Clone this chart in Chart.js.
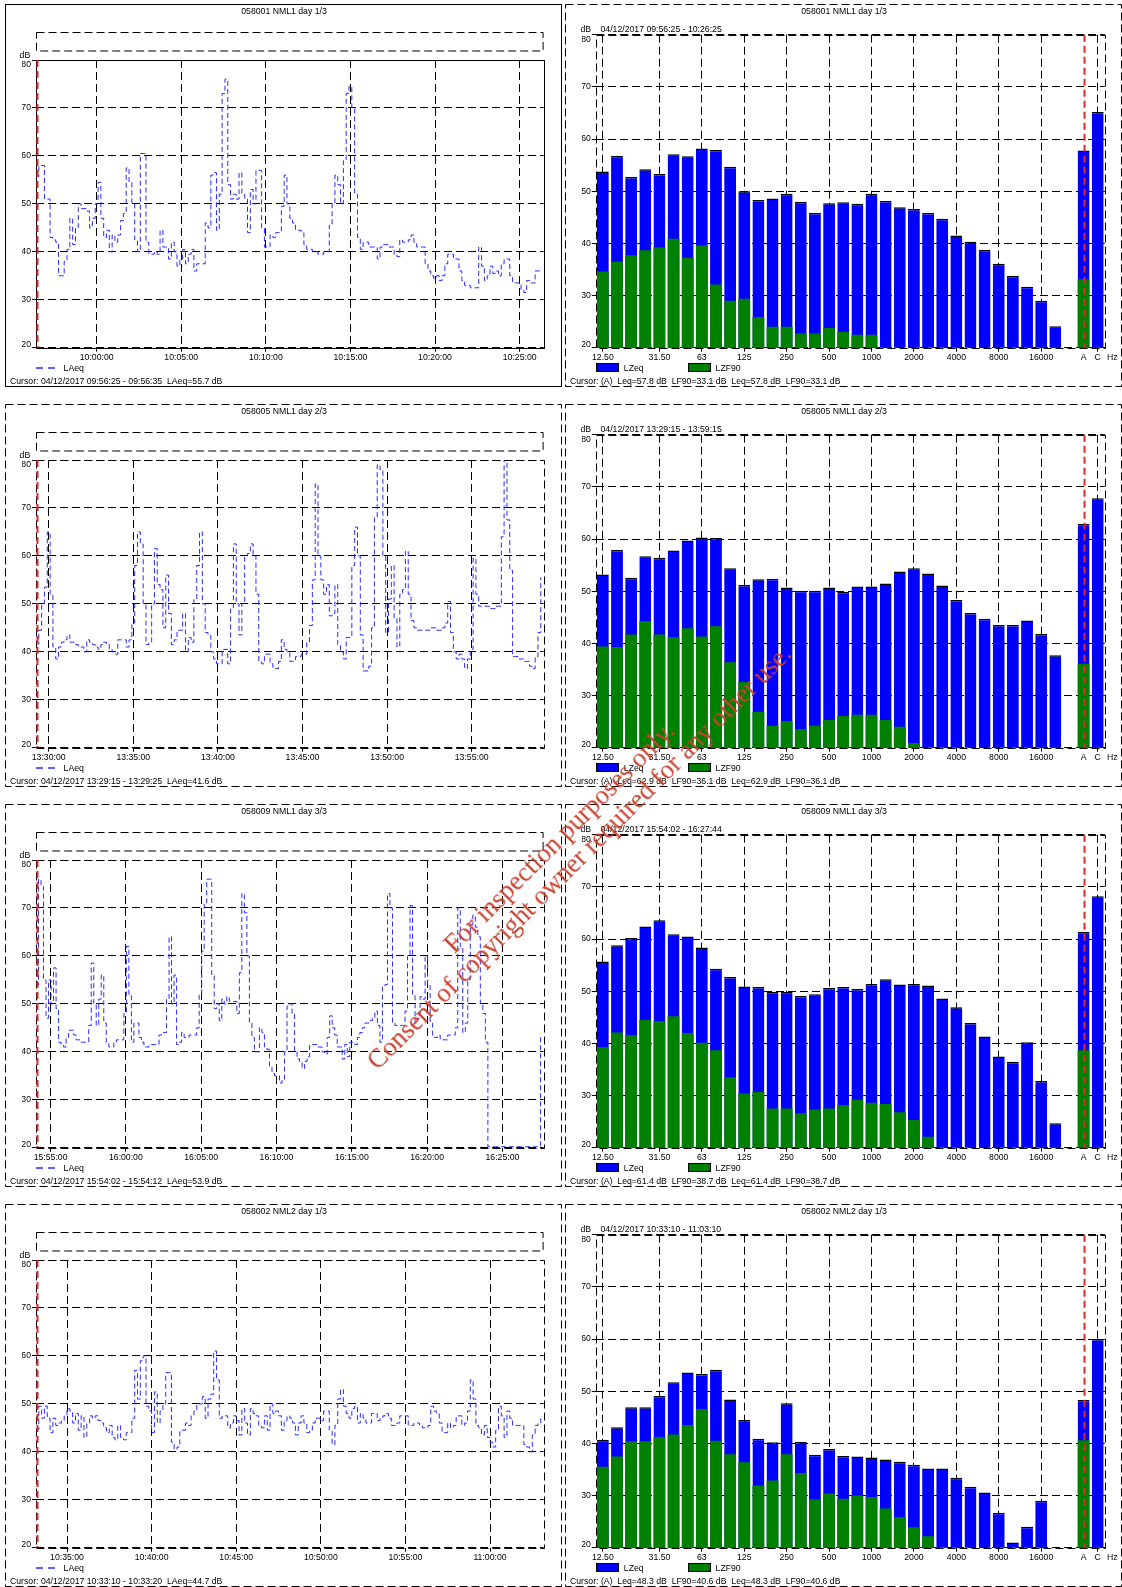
<!DOCTYPE html>
<html>
<head>
<meta charset="utf-8">
<title>Noise survey</title>
<script src="https://cdn.jsdelivr.net/npm/chart.js@4.4.0/dist/chart.umd.min.js"></script>
<style>
    html, body { margin: 0; padding: 0; background: #fff; }
    body {
        width: 1122px; height: 1587px; position: relative; overflow: hidden;
        font-family: "Liberation Sans", Arial, sans-serif; font-size: 8.7px; color: #000;
    }
    .panel { position: absolute; }
    .panel canvas { position: absolute; left: 0; top: 0; }
    .txt { position: absolute; white-space: pre; line-height: 10px; }
    .box { position: absolute; box-sizing: border-box; border: 1px solid #000; }
    .stamp {
        position: absolute; width: 760px; text-align: center; color: #c8412f;
        font-family: "Liberation Serif", "DejaVu Serif", serif; font-size: 26.7px; line-height: 28px;
        transform: rotate(-45deg); white-space: nowrap; pointer-events: none;
    }
</style>
</head>
<body>
<script>
// LAeq, 10 s values
const laeq1 = [
    55.7, 58, 58, 51, 51, 43, 42.5, 42, 35, 35,
    38, 40.5, 47, 41.5, 45, 50, 49, 49, 48.5, 45,
    47, 50, 54.5, 47, 43, 44.5, 40, 43.5, 42, 43.5,
    46.5, 48, 57.5, 54.5, 50, 42.5, 40, 60.5, 60.5, 42,
    39.5, 39.5, 40, 39.5, 44.5, 41, 41, 38.5, 42, 40,
    37, 38.5, 40.5, 37.5, 39.5, 40.5, 36, 37.5, 37.5, 37.5,
    46, 45, 56, 56.5, 44.5, 52, 73, 76, 54, 51,
    52, 51, 56.5, 52, 51, 44, 53, 50, 57, 57,
    45, 41, 41, 43.5, 43, 44, 44, 49.5, 56, 50,
    47, 46, 44.5, 44.5, 44, 41.5, 40.5, 40.5, 40, 40,
    39.5, 39.5, 40, 40, 45.5, 50, 56, 54, 50, 59,
    73, 74.5, 70, 52, 43, 40.5, 42, 42, 41, 41,
    41, 38.5, 41, 41.5, 41.5, 41, 41, 39.5, 39, 42.5,
    42, 42, 42.5, 43.5, 42, 41, 41, 41, 37.5, 36,
    35, 34.5, 35, 34, 35, 37.5, 39.5, 39.5, 38.5, 38.5,
    36, 34, 33, 33, 32.5, 32.5, 32.5, 41, 37, 34,
    35, 37, 35.5, 36, 35, 37.5, 38.5, 38.5, 35, 33.5,
    33.5, 33.5, 32, 31.5, 34, 33.5, 33.5, 36, 36, 36.5
];
const laeq2 = [
    41.6, 44.5, 50, 53.5, 65, 52, 41, 38.5, 41, 42,
    42.5, 43.5, 42, 42, 41.5, 41, 41, 40, 42.5, 42,
    41.5, 41, 40.5, 41.5, 42, 41.5, 40.5, 40, 39.5, 42.5,
    42.5, 42.5, 41, 42.5, 46, 58, 65, 62.5, 50, 41.5,
    42, 50, 61.5, 54, 53, 45, 56, 48, 41.5, 42.5,
    44.5, 44.5, 48, 40, 43, 42, 51, 58, 65, 50,
    44, 43.5, 40, 38.5, 37.5, 37.5, 40.5, 40.5, 37.5, 49,
    62.5, 50, 43.5, 50, 60, 60.5, 62.5, 60, 52, 38,
    37.5, 39.5, 39.5, 37.5, 36.5, 36.5, 38, 42.5, 40.5, 40,
    38, 38, 39, 39, 39.5, 39.5, 42, 45.5, 55, 75,
    60, 55, 52, 54, 47.5, 48, 54, 41.5, 40, 38.5,
    43, 43, 58, 66, 60, 43.5, 36, 36, 37, 45,
    68, 79, 78, 60, 44, 51, 58, 47, 41, 52,
    53, 61, 52, 46.5, 45, 44.5, 44.5, 44.5, 44.5, 44.5,
    45, 45, 44.5, 44.5, 45, 46, 50.5, 44, 40, 38.5,
    39.5, 38.5, 36.5, 38.5, 40.5, 59.5, 52, 49.5, 49.5, 49.5,
    49.5, 49, 49, 49.5, 49.5, 64, 80, 67.5, 57, 39,
    39, 38.5, 38.5, 38, 38, 37, 36.5, 39, 44, 55.5
];
const laeq3 = [
    53.9, 76, 74.5, 55, 47, 55, 50, 57.5, 49, 42,
    41.5, 41, 43, 44.5, 44.5, 43.5, 42.5, 42.5, 42, 42,
    42, 45.5, 58.5, 50, 45.5, 51, 56, 46, 42, 41,
    41, 42, 42.5, 42.5, 42.5, 48, 62, 52, 42, 46,
    46, 43, 42, 41, 41, 41.5, 41.5, 41.5, 41.5, 43.5,
    44, 44, 51, 64, 50, 56, 41.5, 42, 44, 43,
    43, 43.5, 43.5, 43.5, 45, 52, 61, 71, 76, 76,
    56, 49, 50, 46.5, 51, 50, 51.5, 50.5, 50.5, 50.5,
    48, 56.5, 73, 69, 60, 46, 43, 40, 40, 45,
    44, 41, 40.5, 37, 35.5, 35, 35, 33.5, 34, 40,
    49.5, 50, 48, 40, 38.5, 38, 36.5, 38, 39, 41.5,
    41.5, 41.5, 41, 41, 40, 39.5, 43, 47.5, 45, 43.5,
    41, 41, 38.5, 41.5, 39, 42, 42, 41.5, 43, 44,
    45, 46, 46, 46.5, 47, 48.5, 45.5, 42, 53.5, 54,
    73, 70, 46, 45.5, 45.5, 45.5, 45.5, 48.5, 60, 70.5,
    52, 46, 47, 51.5, 51, 60, 54, 46, 43, 43,
    43.5, 42.5, 42.5, 42.5, 43.5, 43.5, 43.5, 45, 70, 62,
    44, 46, 55, 66.5, 68.5, 66, 64, 50, 48, 42,
    20.2, 20.2, 20.2, 20.2, 20.2, 20.2, 20.2, 20.2, 20.2, 20.2,
    20.2, 20.2, 20.2, 20.2, 20.2, 20.2, 20.2, 20.2, 20.2, 20.2,
    20.2, 43.5
];
const laeq4 = [
    44.7, 49.5, 47, 49.5, 47, 44, 47, 45.5, 46, 46.5,
    47.5, 49, 48.5, 46, 48, 44.5, 47.5, 43, 46, 47.5,
    47, 47.5, 46.5, 46, 45, 44, 45.5, 43, 42.5, 45.5,
    43, 42.5, 44, 44, 47, 57, 51, 59, 60, 49.5,
    48.5, 44, 52.5, 46, 48.5, 50, 56.5, 56.5, 42, 40.5,
    41, 44.5, 44.5, 46, 45.5, 47.5, 48.5, 50, 50, 51.5,
    47, 51, 52, 61, 55, 47, 47.5, 47.5, 45, 46,
    47.5, 46.5, 43.5, 49, 46, 43.5, 49, 48, 47.5, 45.5,
    45, 47.5, 44.5, 50, 48, 48.5, 47.5, 44.5, 46.5, 47.5,
    47, 46, 43.5, 46, 47.5, 46, 44, 44.5, 46, 47,
    47, 46.5, 48.5, 48.5, 44.5, 41.5, 45.5, 51, 53, 49.5,
    48, 47, 49, 49.5, 46, 48, 47, 46, 46, 48,
    48, 46.5, 47, 47.5, 48, 47, 45.5, 45.5, 46, 47.5,
    47.5, 47.5, 45.5, 45.5, 46, 46, 45.5, 45, 45, 45.5,
    49.5, 48.5, 48, 46, 44, 44, 46, 45, 45.5, 47.5,
    47.5, 45.5, 46, 48.5, 55, 51, 45.5, 45, 43.5, 45.5,
    43, 42, 41, 44.5, 49.5, 47.5, 43, 48.5, 47, 45.5,
    45.5, 45.5, 45.5, 41.5, 41, 40, 43.5, 45.5, 46, 47.5
];

const timeTicks1 = ['10:00:00', '10:05:00', '10:10:00', '10:15:00', '10:20:00', '10:25:00'];
const timeTicks2 = ['13:30:00', '13:35:00', '13:40:00', '13:45:00', '13:50:00', '13:55:00'];
const timeTicks3 = ['15:55:00', '16:00:00', '16:05:00', '16:10:00', '16:15:00', '16:20:00', '16:25:00'];
const timeTicks4 = ['10:35:00', '10:40:00', '10:45:00', '10:50:00', '10:55:00', '11:00:00'];

// 1/3 octave bands, then the A and C totals
const bands = ['12.50', '16', '20', '25', '31.50', '40', '50', '63', '80', '100', '125', '160',
    '200', '250', '315', '400', '500', '630', '800', '1000', '1250', '1600', '2000', '2500',
    '3150', '4000', '5000', '6300', '8000', '10000', '12500', '16000', '20000', '', 'A', 'C'];
const bandTicks = ['12.50', '31.50', '63', '125', '250', '500', '1000', '2000', '4000', '8000', '16000', 'A', 'C'];

const lzeq1 = [53.8, 56.8, 52.7, 54.2, 53.3, 57.1, 56.7, 58.2, 57.9, 54.7, 50.0, 48.3, 48.6, 49.5, 48.0, 45.8,
    47.7, 47.9, 47.6, 49.5, 48.1, 46.9, 46.6, 45.8, 44.7, 41.5, 40.3, 38.8, 36.1, 33.8, 31.7, 29.0, 24.1, null, 57.8, 65.2];
const lzf90_1 = [34.6, 36.5, 37.7, 38.7, 39.2, 40.9, 37.2, 39.6, 32.1, 29.0, 29.4, 25.9, 24.0, 24.0, 22.7, 22.7,
    23.8, 23.0, 22.5, 22.5, null, null, null, null, null, null, null, null, null, null, null, null, null, null, 33.1, null];
const lzeq2 = [53.2, 57.9, 52.6, 56.7, 56.4, 57.8, 59.7, 60.3, 60.2, 54.4, 51.2, 52.3, 52.4, 50.7, 50.1, 50.1,
    50.7, 49.9, 50.9, 50.9, 51.5, 53.8, 54.4, 53.4, 51.1, 48.3, 45.8, 44.7, 43.5, 43.5, 44.4, 41.8, 37.7, null, 62.9, 67.8];
const lzf90_2 = [39.4, 39.3, 41.7, 44.3, 41.7, 41.2, 42.9, 41.3, 43.3, 36.4, 32.6, 26.9, 24.2, 25.1, 23.6, 24.2,
    25.3, 26.1, 26.3, 26.3, 25.3, 24.0, 20.9, null, null, null, null, null, null, null, null, null, null, null, 36.1, null];
const lzeq3 = [55.7, 58.8, 60.2, 62.4, 63.6, 60.9, 60.5, 58.4, 54.3, 52.7, 50.9, 50.8, 49.9, 49.9, 49.1, 49.4,
    50.6, 50.8, 50.4, 51.4, 52.3, 51.3, 51.4, 51.1, 48.6, 46.9, 43.9, 41.3, 37.5, 36.5, 40.2, 32.8, 24.7, null, 61.4, 68.2];
const lzf90_3 = [39.3, 42.1, 41.6, 44.5, 44.3, 45.2, 42.0, 40.1, 38.7, 33.5, 30.4, 30.7, 27.5, 27.5, 26.6, 27.3,
    27.5, 28.2, 29.2, 28.6, 28.4, 26.8, 25.3, 22.1, null, null, null, null, null, null, null, null, null, null, 38.7, null];
const lzeq4 = [40.7, 43.1, 46.9, 46.9, 49.1, 51.7, 53.6, 53.3, 54.1, 48.4, 44.5, 40.9, 40.2, 47.7, 40.3, 37.8,
    38.9, 37.6, 37.5, 37.3, 36.9, 36.5, 35.9, 35.2, 35.2, 33.4, 31.7, 30.6, 26.7, 21.0, 24.0, 29.0, null, null, 48.3, 60.0];
const lzf90_4 = [35.5, 37.5, 40.4, 40.4, 41.2, 41.7, 43.5, 46.6, 40.5, 37.9, 36.4, 31.9, 32.9, 37.9, 34.3, 29.3,
    30.4, 29.4, 30.0, 29.7, 27.5, 25.9, 23.9, 22.2, 20.1, null, null, null, null, null, null, null, null, null, 40.6, null];

const rows = [
    { title: '058001 NML1 day 1/3', from: '09:56:25', to: '10:26:25', laeq: laeq1, times: timeTicks1,
      lzeq: lzeq1, lzf90: lzf90_1, solid: true,
      cursorL: 'Cursor: 04/12/2017 09:56:25 - 09:56:35  LAeq=55.7 dB',
      cursorR: 'Cursor: (A)  Leq=57.8 dB  LF90=33.1 dB  Leq=57.8 dB  LF90=33.1 dB' },
    { title: '058005 NML1 day 2/3', from: '13:29:15', to: '13:59:15', laeq: laeq2, times: timeTicks2,
      lzeq: lzeq2, lzf90: lzf90_2,
      cursorL: 'Cursor: 04/12/2017 13:29:15 - 13:29:25  LAeq=41.6 dB',
      cursorR: 'Cursor: (A)  Leq=62.9 dB  LF90=36.1 dB  Leq=62.9 dB  LF90=36.1 dB' },
    { title: '058009 NML1 day 3/3', from: '15:54:02', to: '16:27:44', laeq: laeq3, times: timeTicks3,
      lzeq: lzeq3, lzf90: lzf90_3,
      cursorL: 'Cursor: 04/12/2017 15:54:02 - 15:54:12  LAeq=53.9 dB',
      cursorR: 'Cursor: (A)  Leq=61.4 dB  LF90=38.7 dB  Leq=61.4 dB  LF90=38.7 dB' },
    { title: '058002 NML2 day 1/3', from: '10:33:10', to: '11:03:10', laeq: laeq4, times: timeTicks4,
      lzeq: lzeq4, lzf90: lzf90_4,
      cursorL: 'Cursor: 04/12/2017 10:33:10 - 10:33:20  LAeq=44.7 dB',
      cursorR: 'Cursor: (A)  Leq=48.3 dB  LF90=40.6 dB  Leq=48.3 dB  LF90=40.6 dB' }
];

const STEP = 10;
const DASH = [8, 4];
const ROW_H = 400, PH = 400;
const AXIS_W = 14, AXIS_H = 16;
// plot areas inside each panel canvas
const LP = { w: 564, l: 36, r: 543.6, t: 60, b: 347.7 };
const RP = { w: 562, l: 35.8, r: 544.8, t: 34.7, b: 347.7 };

Chart.defaults.font.family = '"Liberation Sans", Arial, sans-serif';
Chart.defaults.font.size = 8.7;
Chart.defaults.color = '#000';

function sec(t) {
    const [h, m, s] = t.split(':').map(Number);
    return h * 3600 + m * 60 + s;
}
function hms(v) {
    const p = n => String(n).padStart(2, '0');
    return p(Math.floor(v / 3600)) + ':' + p(Math.floor(v % 3600 / 60)) + ':' + p(v % 60);
}

// panel border, plot frame and the red cursor
function decor(o) {
    return {
        id: 'decor',
        beforeDraw(chart) {
            const c = chart.ctx;
            c.save();
            c.strokeStyle = '#000';
            c.lineWidth = 1;
            c.setLineDash(o.solid ? [] : DASH);
            c.strokeRect(o.box.x, o.box.y, o.box.w, o.box.h);
            if (o.key) {
                c.setLineDash(DASH);
                c.strokeRect(o.key.x, o.key.y, o.key.w, o.key.h);
            }
            c.restore();
        },
        afterDatasetsDraw(chart) {
            const c = chart.ctx, a = chart.chartArea;
            c.save();
            c.strokeStyle = '#000';
            c.lineWidth = 1;
            c.setLineDash(o.solid ? [] : DASH);
            c.strokeRect(Math.round(a.left) + 0.5, Math.round(a.top) + 0.5,
                Math.round(a.right - a.left), Math.round(a.bottom - a.top));
            const x = Math.round(chart.scales.x.getPixelForValue(o.cursor)) + 0.5;
            c.strokeStyle = '#de2a2a';
            c.lineWidth = 2;
            c.setLineDash([7, 4]);
            c.beginPath();
            c.moveTo(x, a.top);
            c.lineTo(x, a.bottom);
            c.stroke();
            c.restore();
        }
    };
}

// keep the end labels (80, 20) inside the plot, like the original print
function clampLabels(s) {
    if (s._clamped) return;
    s._clamped = true;
    const base = Object.getPrototypeOf(s).getLabelItems;
    s.getLabelItems = function (area) {
        const items = base.call(this, area);
        items.forEach(it => {
            const tr = it.options.translation;
            tr[1] = Math.min(Math.max(tr[1], this.top + 5), this.bottom - 3.5);
        });
        return items;
    };
}

function yScale() {
    return {
        min: 20, max: 80,
        afterFit: s => { s.width = AXIS_W; clampLabels(s); },
        ticks: { stepSize: 10, padding: 1 },
        grid: { color: '#000', tickLength: 4 },
        border: { display: false, dash: DASH }
    };
}

function padding(p) {
    return { left: p.l - AXIS_W, right: p.w - p.r, top: p.t, bottom: PH - p.b - AXIS_H };
}

function lineChart(canvas, row) {
    const t0 = sec(row.from);
    const points = row.laeq.map((v, i) => ({ x: t0 + i * STEP, y: v }));
    new Chart(canvas, {
        type: 'line',
        data: {
            datasets: [{
                label: 'LAeq', data: points, stepped: true,
                borderColor: '#2b2bff', borderWidth: 1, borderDash: [5, 3],
                pointRadius: 0, fill: false
            }]
        },
        options: {
            responsive: false, animation: false, events: [],
            layout: { padding: padding(LP) },
            plugins: { legend: { display: false }, tooltip: { enabled: false } },
            scales: {
                x: {
                    type: 'linear', min: t0, max: sec(row.to),
                    afterFit: s => { s.height = AXIS_H; },
                    afterBuildTicks: s => { s.ticks = row.times.map(t => ({ value: sec(t) })); },
                    ticks: { autoSkip: false, maxRotation: 0, padding: 1, callback: v => hms(v) },
                    grid: { color: '#000', tickLength: 4 },
                    border: { display: false, dash: DASH }
                },
                y: yScale()
            }
        },
        plugins: [decor({
            solid: !!row.solid, cursor: t0 + STEP / 2,
            box: { x: 5.5, y: 4.5, w: 556, h: 382 },
            key: { x: LP.l + 0.5, y: 32.5, w: LP.r - LP.l - 1, h: 18.5 }
        })]
    });
}

function barChart(canvas, row) {
    const shown = i => bandTicks.includes(bands[i]);
    new Chart(canvas, {
        type: 'bar',
        data: {
            labels: bands,
            datasets: [
                { label: 'LZeq', data: row.lzeq, backgroundColor: '#0000ff', borderColor: '#000',
                  borderWidth: { top: 1.5, left: 0, right: 0, bottom: 0 }, order: 1 },
                { label: 'LZF90', data: row.lzf90, backgroundColor: '#008000', borderWidth: 0, order: 0 }
            ]
        },
        options: {
            responsive: false, animation: false, events: [],
            layout: { padding: padding(RP) },
            datasets: { bar: { grouped: false, categoryPercentage: 1, barPercentage: 0.84 } },
            plugins: { legend: { display: false }, tooltip: { enabled: false } },
            scales: {
                x: {
                    offset: true,
                    afterFit: s => { s.height = AXIS_H; },
                    ticks: { autoSkip: false, maxRotation: 0, padding: 1,
                             callback: v => shown(v) ? bands[v] : '' },
                    grid: { offset: false, tickLength: 4,
                            color: c => shown(c.index) && bands[c.index] !== 'A' ? '#000' : 'rgba(0,0,0,0)' },
                    border: { display: false, dash: DASH }
                },
                y: yScale()
            }
        },
        plugins: [decor({
            solid: false, cursor: bands.indexOf('A'),
            box: { x: 5.5, y: 4.5, w: 556, h: 382 }
        })]
    });
}

function panel(x, y, w) {
    const el = document.createElement('div');
    el.className = 'panel';
    el.style.left = x + 'px';
    el.style.top = y + 'px';
    el.style.width = w + 'px';
    el.style.height = PH + 'px';
    const cv = document.createElement('canvas');
    cv.width = w;
    cv.height = PH;
    el.appendChild(cv);
    document.body.appendChild(el);
    return { el, cv };
}

function text(el, x, y, s, extra) {
    const t = document.createElement('div');
    t.className = 'txt';
    t.style.left = x + 'px';
    t.style.top = (y - 5) + 'px';
    t.textContent = s;
    if (extra) Object.assign(t.style, extra);
    el.appendChild(t);
}

function box(el, x, y, w, h, color) {
    const b = document.createElement('div');
    b.className = 'box';
    Object.assign(b.style, { left: x + 'px', top: y + 'px', width: w + 'px', height: h + 'px', background: color });
    el.appendChild(b);
}

rows.forEach((row, r) => {
    const top = r * ROW_H;

    const L = panel(0, top, LP.w);
    lineChart(L.cv, row);
    text(L.el, 0, 11, row.title, { width: '568px', textAlign: 'center' });
    text(L.el, 19.6, 55, 'dB');
    const dash = document.createElementNS('http://www.w3.org/2000/svg', 'svg');
    dash.setAttribute('width', '24');
    dash.setAttribute('height', '4');
    dash.style.cssText = 'position:absolute;left:' + LP.l + 'px;top:366px';
    dash.innerHTML = '<line x1="0" y1="2" x2="22" y2="2" stroke="#2b2bff" stroke-width="1.5" stroke-dasharray="7,5"/>';
    L.el.appendChild(dash);
    text(L.el, 63.6, 367.7, 'LAeq');
    text(L.el, 10, 380.7, row.cursorL);

    const R = panel(560, top, RP.w);
    barChart(R.cv, row);
    text(R.el, 0, 11, row.title, { width: '568px', textAlign: 'center' });
    text(R.el, 20.4, 29.3, 'dB');
    text(R.el, 40.5, 29.3, '04/12/2017 ' + row.from + ' - ' + row.to);
    text(R.el, 547, 357, 'Hz');
    box(R.el, 36, 363, 22.5, 9, '#0000ff');
    text(R.el, 63.8, 367.7, 'LZeq');
    box(R.el, 128.3, 363, 22.5, 9, '#008000');
    text(R.el, 155.6, 367.7, 'LZF90');
    text(R.el, 10, 380.7, row.cursorR);
});

// watermark across the middle of the page
const stamp = document.createElement('div');
stamp.className = 'stamp';
stamp.innerHTML = 'For inspection purposes only.<br>Consent of copyright owner required for any other use.';
document.body.appendChild(stamp);
stamp.style.left = (569 - 380) + 'px';
stamp.style.top = (847 - stamp.offsetHeight / 2) + 'px';
</script>
</body>
</html>
